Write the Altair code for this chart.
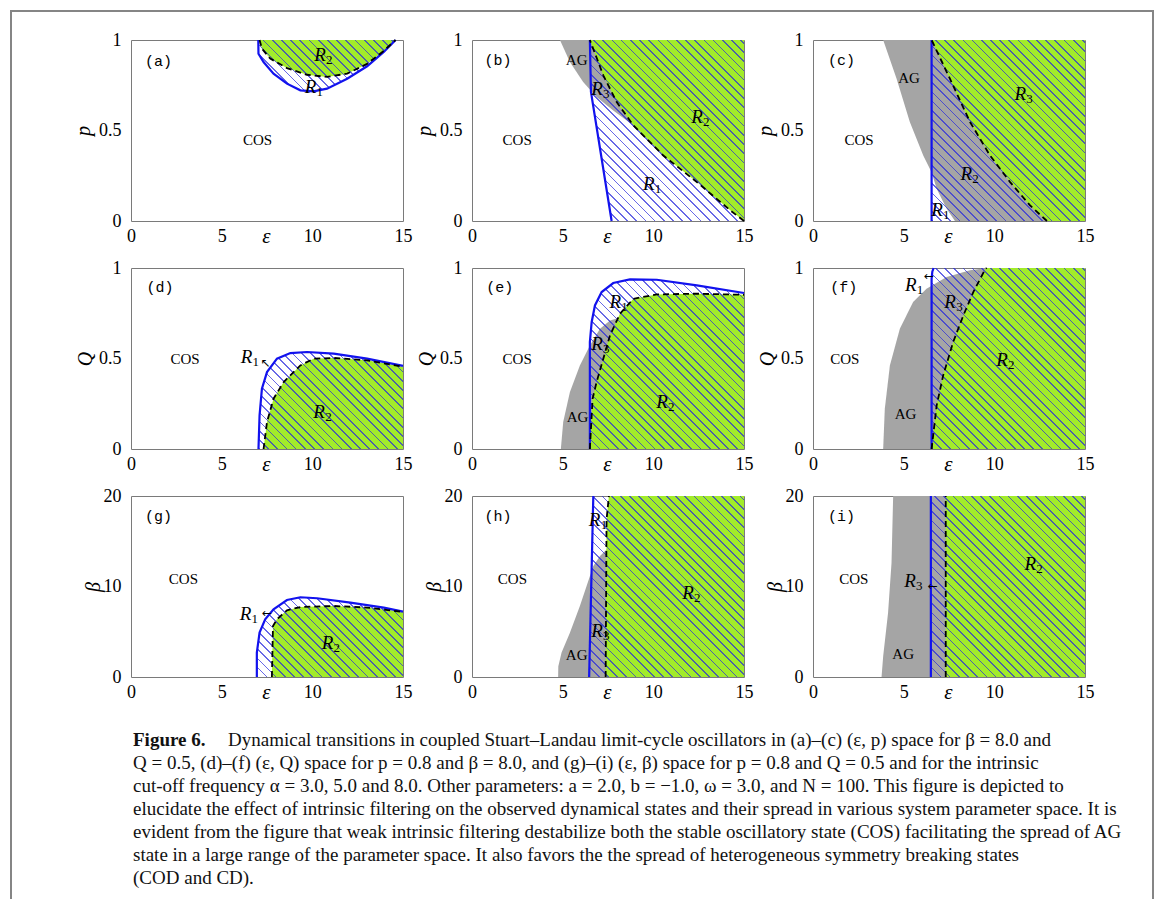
import math
import altair as alt
import pandas as pd

# ---------------- data ----------------
# (a) (eps, p), alpha = 3
a_blue_x = [7.02, 7.03, 7.31, 7.86, 8.60, 9.34, 10.07, 10.81, 11.92, 13.02, 13.94, 14.59]
a_blue_y = [1.00, 0.924, 0.878, 0.814, 0.759, 0.722, 0.716, 0.731, 0.786, 0.855, 0.934, 1.00]
a_dash_x = [7.09, 7.22, 7.68, 8.60, 9.70, 10.81, 11.92, 13.02, 13.94, 14.59]
a_dash_y = [1.00, 0.952, 0.897, 0.845, 0.808, 0.796, 0.814, 0.868, 0.940, 1.00]

# (b) (eps, p), alpha = 5
b_blue_y = [0.0, 0.713, 1.0]
b_blue_x = [7.70, 6.56, 6.50]
b_dash_y = [0.0, 0.059, 0.215, 0.362, 0.528, 0.657, 0.805, 1.0]
b_dash_x = [15.0, 14.24, 12.40, 10.55, 8.90, 7.98, 7.24, 6.50]
b_gray_y = [0.528, 0.611, 0.685, 0.768, 0.878, 1.0]
b_gray_x = [8.90, 7.79, 6.87, 6.13, 5.40, 4.85]

# (c) (eps, p), alpha = 8
c_blue_y = [0.0, 1.0]
c_blue_x = [6.54, 6.54]
c_dash_y = [0.0, 0.086, 0.215, 0.362, 0.547, 0.786, 1.0]
c_dash_x = [12.90, 11.97, 10.87, 9.76, 8.66, 7.55, 6.54]
c_gray_y = [0.0, 0.068, 0.178, 0.270, 0.362, 0.547, 0.786, 1.0]
c_gray_x = [7.83, 7.37, 6.82, 6.54, 6.08, 5.34, 4.61, 3.87]

# (d) (eps, Q), alpha = 3
d_blue_x = [7.03, 7.09, 7.22, 7.50, 8.05, 8.79, 9.71, 11.18, 13.02, 15.0]
d_blue_y = [0.0, 0.186, 0.333, 0.425, 0.499, 0.530, 0.536, 0.527, 0.499, 0.459]
d_dash_x = [7.31, 7.50, 7.86, 8.42, 9.34, 10.07, 11.18, 13.02, 15.0]
d_dash_y = [0.0, 0.149, 0.278, 0.370, 0.462, 0.499, 0.503, 0.490, 0.455]

# (e) (eps, Q), alpha = 5
e_blue_x = [6.50, 6.50, 6.60, 6.78, 7.15, 7.79, 8.71, 10.19, 12.40, 15.0]
e_blue_y = [0.0, 0.591, 0.702, 0.793, 0.867, 0.917, 0.937, 0.935, 0.904, 0.862]
e_dash_x = [6.50, 6.65, 6.87, 7.24, 7.61, 8.16, 8.90, 10.19, 12.40, 15.0]
e_dash_y = [0.0, 0.278, 0.370, 0.499, 0.628, 0.747, 0.830, 0.854, 0.858, 0.852]
e_gray_x = [4.90, 5.03, 5.40, 5.95, 6.50, 7.06, 7.61, 7.95]
e_gray_y = [0.0, 0.149, 0.315, 0.462, 0.572, 0.665, 0.710, 0.720]

# (f) (eps, Q), alpha = 8
f_blue_y = [0.0, 0.94, 0.98, 1.0]
f_blue_x = [6.54, 6.54, 6.58, 6.65]
f_dash_x = [6.54, 6.82, 7.18, 7.73, 8.29, 8.84, 9.49, 9.58]
f_dash_y = [0.0, 0.241, 0.407, 0.591, 0.738, 0.867, 0.992, 1.0]
f_green_x = f_dash_x + [15.0]
f_green_y = f_dash_y + [1.0]
f_gray_x = [3.87, 3.96, 4.24, 4.79, 5.52, 6.26, 7.37, 8.66, 9.58, 15.0]
f_gray_y = [0.0, 0.223, 0.462, 0.665, 0.812, 0.886, 0.950, 0.987, 1.0, 1.0]

# (g) (eps, beta), alpha = 3
g_blue_x = [6.94, 6.94, 7.09, 7.40, 7.86, 8.60, 9.34, 10.26, 12.10, 13.94, 15.0]
g_blue_y = [0.0, 2.7, 4.9, 6.38, 7.48, 8.51, 8.81, 8.70, 8.22, 7.67, 7.23]
g_dash_x = [7.77, 7.83, 8.05, 8.60, 9.34, 11.18, 13.02, 15.0]
g_dash_y = [0.0, 5.64, 6.38, 7.37, 7.73, 7.85, 7.67, 7.20]

# (h) (eps, beta), alpha = 5
h_blue_y = [0.0, 20.0]
h_blue_x = [6.46, 6.69]
h_dash_y = [0.0, 17.4, 20.0]
h_dash_x = [7.37, 7.42, 7.55]
h_gray_x = [4.75, 4.76, 4.94, 5.40, 5.95, 6.32, 6.69, 7.06, 7.42, 7.50]
h_gray_y = [0.0, 1.2, 2.7, 4.9, 7.85, 10.06, 12.27, 13.37, 14.1, 14.1]

# (i) (eps, beta), alpha = 8
i_blue_y = [0.0, 20.0]
i_blue_x = [6.50, 6.50]
i_dash_y = [0.0, 20.0]
i_dash_x = [7.32, 7.32]
i_gray_y = [0.0, 2.3, 7.1, 12.6, 20.0]
i_gray_x = [3.78, 3.87, 4.14, 4.33, 4.42]

x_ticks = [0, 5, 10, 15]
unit_ticks = [0, 0.5, 1]
beta_ticks = [0, 10, 20]

caption_bold = "Figure 6."
caption_lines = [
    "Dynamical transitions in coupled Stuart–Landau limit-cycle oscillators in (a)–(c) (ε, p) space for β = 8.0 and",
    "Q = 0.5, (d)–(f) (ε, Q) space for p = 0.8 and β = 8.0, and (g)–(i) (ε, β) space for p = 0.8 and Q = 0.5 and for the intrinsic",
    "cut-off frequency α = 3.0, 5.0 and 8.0. Other parameters: a = 2.0, b = −1.0, ω = 3.0, and N = 100. This figure is depicted to",
    "elucidate the effect of intrinsic filtering on the observed dynamical states and their spread in various system parameter space. It is",
    "evident from the figure that weak intrinsic filtering destabilize both the stable oscillatory state (COS) facilitating the spread of AG",
    "state in a large range of the parameter space. It also favors the the spread of heterogeneous symmetry breaking states",
    "(COD and CD).",
]

# ---------------- styling ----------------
W, H = 272, 181
BLUE = "#1212ee"
GREEN = "#a2ec2a"
GRAY = "#a5a5a5"
HATCH = "rgba(40,40,220,0.7)"
CLEAR = "rgba(255,255,255,0)"
SERIF = "Liberation Serif"
MONO = "Liberation Mono"


def hatch_fill(xx, yy, ymax, period=6.5, lw=1.2):
    w = max((max(xx) - min(xx)) / 15.0 * W, 1.0)
    h = max((max(yy) - min(yy)) / ymax * H, 1.0)
    n = (w + h) / (math.sqrt(2) * period)
    s = (w + h) / (w * w + h * h)
    stops = []
    k = 0
    while k / n < 1:
        o0 = round(k / n, 5)
        o1 = round(min((k + lw / period) / n, 1.0), 5)
        stops += [
            {"offset": o0, "color": CLEAR},
            {"offset": o0, "color": HATCH},
            {"offset": o1, "color": HATCH},
            {"offset": o1, "color": CLEAR},
        ]
        k += 1
    stops.append({"offset": 1, "color": CLEAR})
    return {"gradient": "linear", "x1": 0, "y1": 1,
            "x2": round(s * w, 5), "y2": round(1 - s * h, 5), "stops": stops}


def build_panel(p):
    ymax = p["ymax"]
    xsc = alt.Scale(domain=[0, 15], nice=False, zero=False)
    ysc = alt.Scale(domain=[0, ymax], nice=False, zero=False)
    xax = alt.Axis(values=x_ticks, title="ε", titleX=135, titleY=21,
                   titleAlign="center", titleBaseline="alphabetic",
                   titleFontSize=21, labelFlush=False, labelOverlap=False)
    yax = alt.Axis(values=p["yticks"], format="~g", title=p["ytitle"],
                   titleX=p["ytx"], titleY=H / 2, titleAlign="center",
                   titleBaseline="middle", titleAngle=270,
                   labelFlush=False, labelOverlap=False)

    def X(f):
        return alt.X(f, type="quantitative", scale=xsc, axis=xax)

    def Y(f):
        return alt.Y(f, type="quantitative", scale=ysc, axis=yax)

    def df_of(xs, ys, base=0.0):
        return pd.DataFrame({"x": xs, "y": ys, "b": [base] * len(xs), "i": list(range(len(xs)))})

    def area(xs, ys, base, orient, **mark):
        d = df_of(xs, ys, base)
        if orient == "v":
            return alt.Chart(d).mark_area(orient="vertical", **mark).encode(
                x=X("x"), y=Y("y"), y2="b:Q")
        return alt.Chart(d).mark_area(orient="horizontal", **mark).encode(
            y=Y("y"), x=X("x"), x2="b:Q")

    layers = []
    if p.get("gray"):
        gx, gy, gb, go = p["gray"]
        layers.append(area(gx, gy, gb, go, color=GRAY))
    gx, gy, gb, go = p["green"]
    layers.append(area(gx, gy, gb, go, color=GREEN))
    hx, hy, hb, ho = p["hatch"]
    if ho == "v":
        bx, by = hx, list(hy) + [hb]
    else:
        bx, by = list(hx) + [hb], hy
    layers.append(area(hx, hy, hb, ho, fill=hatch_fill(bx, by, ymax)))
    bx, by = p["blue"]
    layers.append(alt.Chart(df_of(bx, by)).mark_line(color=BLUE, strokeWidth=2.2).encode(
        x=X("x"), y=Y("y"), order="i:Q"))
    dx, dy = p["dash"]
    layers.append(alt.Chart(df_of(dx, dy)).mark_line(
        color="black", strokeWidth=1.8, strokeDash=[6, 4]).encode(
        x=X("x"), y=Y("y"), order="i:Q"))

    def texts(items, **mark):
        d = pd.DataFrame(items, columns=["t", "x", "y"])
        return alt.Chart(d).mark_text(baseline="middle", color="black", **mark).encode(
            x=X("x"), y=Y("y"), text="t:N")

    layers.append(texts([p["tag"]], font=MONO, fontSize=15, align="center"))
    layers.append(texts(p["states"], font=SERIF, fontSize=15, align="center"))
    letters = [(lab[0], x, y) for lab, x, y in p["regions"]]
    subs = [(lab[1:], x, y) for lab, x, y in p["regions"]]
    layers.append(texts(letters, font=SERIF, fontSize=19, fontStyle="italic",
                        align="center", dx=-3))
    layers.append(texts(subs, font=SERIF, fontSize=13, align="left", dx=3, dy=5))
    if p.get("arrows"):
        layers.append(texts(p["arrows"], font="DejaVu Sans", fontSize=12, align="center"))
    return alt.layer(*layers).properties(width=W, height=H)


panels = [
    dict(ymax=1, yticks=unit_ticks, ytitle="p", ytx=-48,
         green=(a_dash_x, a_dash_y, 1.0, "v"), hatch=(a_blue_x[1:], a_blue_y[1:], 1.0, "v"),
         blue=(a_blue_x, a_blue_y), dash=(a_dash_x, a_dash_y),
         tag=("(a)", 1.51, 0.886), states=[("COS", 6.98, 0.445)],
         regions=[("R2", 10.59, 0.915), ("R1", 10.07, 0.74)]),
    dict(ymax=1, yticks=unit_ticks, ytitle="p", ytx=-48,
         gray=(b_gray_x, b_gray_y, 15.0, "h"),
         green=(b_dash_x, b_dash_y, 15.0, "h"), hatch=(b_blue_x, b_blue_y, 15.0, "h"),
         blue=(b_blue_x, b_blue_y), dash=(b_dash_x, b_dash_y),
         tag=("(b)", 1.44, 0.887), states=[("COS", 2.49, 0.445), ("AG", 5.77, 0.887)],
         regions=[("R3", 7.06, 0.731), ("R2", 12.57, 0.573), ("R1", 9.91, 0.206)]),
    dict(ymax=1, yticks=unit_ticks, ytitle="p", ytx=-48,
         gray=(c_gray_x, c_gray_y, 15.0, "h"),
         green=(c_dash_x, c_dash_y, 15.0, "h"), hatch=(c_blue_x, c_blue_y, 15.0, "h"),
         blue=(c_blue_x, c_blue_y), dash=(c_dash_x, c_dash_y),
         tag=("(c)", 1.57, 0.887), states=[("COS", 2.54, 0.445), ("AG", 5.30, 0.79)],
         regions=[("R3", 11.6, 0.703), ("R2", 8.62, 0.261), ("R1", 7.0, 0.059)]),
    dict(ymax=1, yticks=unit_ticks, ytitle="Q", ytx=-46,
         green=(d_dash_x, d_dash_y, 0.0, "v"), hatch=(d_blue_x, d_blue_y, 0.0, "v"),
         blue=(d_blue_x, d_blue_y), dash=(d_dash_x, d_dash_y),
         tag=("(d)", 1.6, 0.895), states=[("COS", 2.98, 0.499)],
         regions=[("R1", 6.54, 0.508), ("R2", 10.54, 0.204)],
         arrows=[("↖", 7.4, 0.475)]),
    dict(ymax=1, yticks=unit_ticks, ytitle="Q", ytx=-46,
         gray=(e_gray_x, e_gray_y, 0.0, "v"),
         green=(e_dash_x, e_dash_y, 0.0, "v"), hatch=(e_blue_x[1:], e_blue_y[1:], 0.0, "v"),
         blue=(e_blue_x, e_blue_y), dash=(e_dash_x, e_dash_y),
         tag=("(e)", 1.53, 0.895), states=[("COS", 2.49, 0.499), ("AG", 5.82, 0.177)],
         regions=[("R1", 8.07, 0.812), ("R3", 7.06, 0.582), ("R2", 10.65, 0.26)]),
    dict(ymax=1, yticks=unit_ticks, ytitle="Q", ytx=-46,
         gray=(f_gray_x, f_gray_y, 0.0, "v"),
         green=(f_green_x, f_green_y, 0.0, "v"), hatch=(f_blue_x, f_blue_y, 15.0, "h"),
         blue=(f_blue_x, f_blue_y), dash=(f_dash_x, f_dash_y),
         tag=("(f)", 1.7, 0.895), states=[("COS", 1.75, 0.499), ("AG", 5.1, 0.195)],
         regions=[("R1", 5.56, 0.904), ("R3", 7.73, 0.812), ("R2", 10.59, 0.49)],
         arrows=[("←", 6.4, 0.955)]),
    dict(ymax=20, yticks=beta_ticks, ytitle="β", ytx=-38,
         green=(g_dash_x, g_dash_y, 0.0, "v"), hatch=(g_blue_x[1:], g_blue_y[1:], 0.0, "v"),
         blue=(g_blue_x, g_blue_y), dash=(g_dash_x, g_dash_y),
         tag=("(g)", 1.51, 17.8), states=[("COS", 2.89, 10.8)],
         regions=[("R1", 6.48, 6.93), ("R2", 11.0, 3.8)],
         arrows=[("←", 7.5, 7.1)]),
    dict(ymax=20, yticks=beta_ticks, ytitle="β", ytx=-38,
         gray=(h_gray_x, h_gray_y, 0.0, "v"),
         green=(h_dash_x, h_dash_y, 15.0, "h"), hatch=(h_blue_x, h_blue_y, 15.0, "h"),
         blue=(h_blue_x, h_blue_y), dash=(h_dash_x, h_dash_y),
         tag=("(h)", 1.44, 17.8), states=[("COS", 2.23, 10.8), ("AG", 5.77, 2.4)],
         regions=[("R1", 6.93, 17.4), ("R3", 7.06, 5.1), ("R2", 12.08, 9.3)]),
    dict(ymax=20, yticks=beta_ticks, ytitle="β", ytx=-38,
         gray=(i_gray_x, i_gray_y, 15.0, "h"),
         green=(i_dash_x, i_dash_y, 15.0, "h"), hatch=(i_blue_x, i_blue_y, 15.0, "h"),
         blue=(i_blue_x, i_blue_y), dash=(i_dash_x, i_dash_y),
         tag=("(i)", 1.57, 17.8), states=[("COS", 2.25, 10.8), ("AG", 4.97, 2.5)],
         regions=[("R3", 5.52, 10.6), ("R2", 12.15, 12.45)],
         arrows=[("←", 6.6, 10.06)]),
]

charts = [build_panel(p) for p in panels]

# ---------------- caption ----------------
CAP_H = 170
cap_y = alt.Scale(domain=[-0.7, 6.7], reverse=True, nice=False, zero=False)
cap_rest = pd.DataFrame({"line": list(range(1, len(caption_lines))), "t": caption_lines[1:]})
cap_first = pd.DataFrame({"line": [0], "t": [caption_lines[0]]})
cap_bold = pd.DataFrame({"line": [0], "t": [caption_bold]})
cap_font = dict(font=SERIF, fontSize=19, align="left", baseline="middle", color="#111111")

cap_layers = [
    alt.Chart(cap_bold).mark_text(fontWeight="bold", **cap_font).encode(
        x=alt.value(2), y=alt.Y("line:Q", scale=cap_y, axis=None), text="t:N"),
    alt.Chart(cap_first).mark_text(**cap_font).encode(
        x=alt.value(97), y=alt.Y("line:Q", scale=cap_y, axis=None), text="t:N"),
    alt.Chart(cap_rest).mark_text(**cap_font).encode(
        x=alt.value(2), y=alt.Y("line:Q", scale=cap_y, axis=None), text="t:N"),
]
frame_df = pd.DataFrame({"d": [0]})
frame = dict(color="#858585", strokeWidth=2)
cap_layers += [
    alt.Chart(frame_df).mark_rule(**frame).encode(x=alt.value(-120), y=alt.value(-714), y2=alt.value(175)),
    alt.Chart(frame_df).mark_rule(**frame).encode(x=alt.value(1022), y=alt.value(-714), y2=alt.value(175)),
    alt.Chart(frame_df).mark_rule(**frame).encode(y=alt.value(-713), x=alt.value(-121), x2=alt.value(1023)),
]
caption = alt.layer(*cap_layers).properties(
    width=W, height=CAP_H, view=alt.ViewBackground(stroke="transparent"))

chart = alt.concat(
    *charts, caption, columns=3, spacing={"row": 47, "column": 69}, bounds="flush"
).properties(padding=0).configure_axis(
    labelFont=SERIF, labelFontSize=18, labelColor="black",
    ticks=False, domain=False, grid=False,
    titleFont=SERIF, titleFontStyle="italic", titleFontWeight="normal",
    titleFontSize=20, titleColor="black",
).configure_axisX(labelPadding=6).configure_axisY(labelPadding=10).configure_view(
    stroke="#7a7a7a", strokeWidth=1)

chart.save("out.html", embed_options={"renderer": "svg", "actions": False})
